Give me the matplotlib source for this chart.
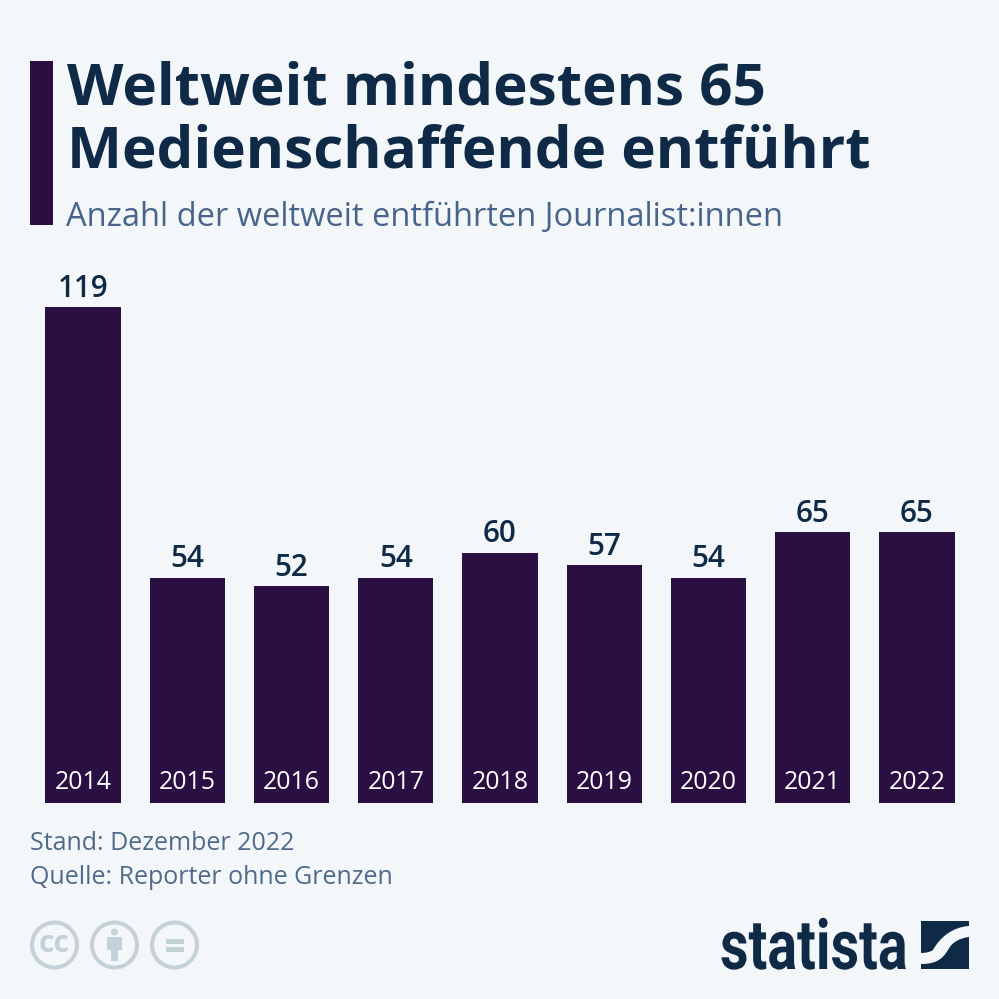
import matplotlib
matplotlib.use('Agg')
import matplotlib.pyplot as plt
from matplotlib.patches import Rectangle, Circle, PathPatch, Polygon
from matplotlib.path import Path
from matplotlib.patheffects import AbstractPathEffect
from matplotlib.transforms import Affine2D

years = ['2014', '2015', '2016', '2017', '2018', '2019', '2020', '2021', '2022']
values = [119, 54, 52, 54, 60, 57, 54, 65, 65]

title = 'Weltweit mindestens 65\nMedienschaffende entführt'
subtitle = 'Anzahl der weltweit entführten Journalist:innen'
notes = ['Stand: Dezember 2022', 'Quelle: Reporter ohne Grenzen']

BG = '#f4f7fa'
BAR = '#2a0f42'
DARK = '#0f2a46'
SUB = '#47648a'
NOTE = '#4f6a8a'
ICON = '#c5d1d9'

plt.rcParams['font.family'] = ['Open Sans', 'DejaVu Sans']

W = 999
fig = plt.figure(figsize=(9.99, 9.99), dpi=100, facecolor=BG)


def pt(px):
    # Schriftgroesse in Pixeln nach Punkt
    return px * 0.72


class StretchY(AbstractPathEffect):
    # Logo-Schrift ist schmal: Text um die Grundlinie hoeher ziehen
    def __init__(self, factor, base):
        super().__init__()
        self.factor = factor
        self.base = base

    def draw_path(self, renderer, gc, tpath, affine, rgbFace=None):
        stretch = Affine2D().translate(0, -self.base).scale(1, self.factor).translate(0, self.base)
        renderer.draw_path(gc, tpath, affine + stretch, rgbFace)


# Balken
ax = fig.add_axes([30.9 / W, (W - 803) / W, 938.2 / W, 520 / W])
ax.set_facecolor('none')
ax.bar(range(len(values)), values, width=0.72, color=BAR)
ax.set_xlim(-0.5, 8.5)
ax.set_ylim(0, 520 / (496 / 119))
ax.axis('off')
for i, v in enumerate(values):
    ax.annotate(str(v), (i, v), xytext=(0, 2.5), textcoords='offset points', ha='center', va='bottom',
                fontsize=pt(29.6), fontweight='semibold', color=DARK)
    ax.annotate(years[i], (i, 0), xytext=(0, 5.5), textcoords='offset points', ha='center', va='bottom',
                fontsize=pt(24.9), color='white')

# Overlay in Bildpixeln
ov = fig.add_axes([0, 0, 1, 1])
ov.set_xlim(0, W)
ov.set_ylim(W, 0)
ov.axis('off')
ov.patch.set_alpha(0)

ov.add_patch(Rectangle((30, 61), 23, 164, color=BAR, lw=0))
ov.text(67, 121, title, fontsize=pt(58.4), fontweight='bold', color=DARK, va='center', ha='left', linespacing=1.12)
ov.text(66, 218, subtitle, fontsize=pt(32.7), color=SUB, va='center', ha='left')
ov.text(30, 843, notes[0], fontsize=pt(25), color=NOTE, va='center')
ov.text(30, 878, notes[1], fontsize=pt(25), color=NOTE, va='center')

# CC Icons
for cx in [54.5, 114.5, 174.5]:
    ov.add_patch(Circle((cx, 945), 22.5, fc='none', ec=ICON, lw=pt(4)))
ov.text(54.5, 944, 'cc', fontsize=pt(30), fontweight='bold', color=ICON, ha='center', va='center')
ov.add_patch(Circle((114.5, 932), 3.5, color=ICON, lw=0))
ov.add_patch(Polygon([(107, 937), (122, 937), (122, 950), (118, 950), (118, 961), (111, 961), (111, 950), (107, 950)],
                     color=ICON, lw=0))
ov.add_patch(Rectangle((166, 939), 18, 5, color=ICON, lw=0))
ov.add_patch(Rectangle((166, 947), 18, 5, color=ICON, lw=0))

# Statista Logo
ov.text(720, 969, 'statista', fontsize=pt(55.5), fontweight='bold', color=DARK, ha='left', va='baseline',
        family=['Roboto', 'DejaVu Sans'], path_effects=[StretchY(1.25, W - 969)])
upper = Path([(921, 921), (969, 921), (969, 926), (953, 927), (940, 937), (933, 950), (930, 952), (926, 953), (921, 953), (921, 921)],
             [Path.MOVETO, Path.LINETO, Path.LINETO, Path.CURVE4, Path.CURVE4, Path.CURVE4, Path.CURVE4, Path.CURVE4, Path.CURVE4, Path.CLOSEPOLY])
lower = Path([(969, 937), (969, 969), (921, 969), (921, 964), (935, 964), (942, 960), (948, 950), (952, 942), (960, 938), (969, 937)],
             [Path.MOVETO, Path.LINETO, Path.LINETO, Path.LINETO, Path.CURVE4, Path.CURVE4, Path.CURVE4, Path.CURVE4, Path.CURVE4, Path.CURVE4])
ov.add_patch(PathPatch(upper, fc=DARK, lw=0))
ov.add_patch(PathPatch(lower, fc=DARK, lw=0))

fig.savefig('out.png', dpi=100, facecolor=BG)
